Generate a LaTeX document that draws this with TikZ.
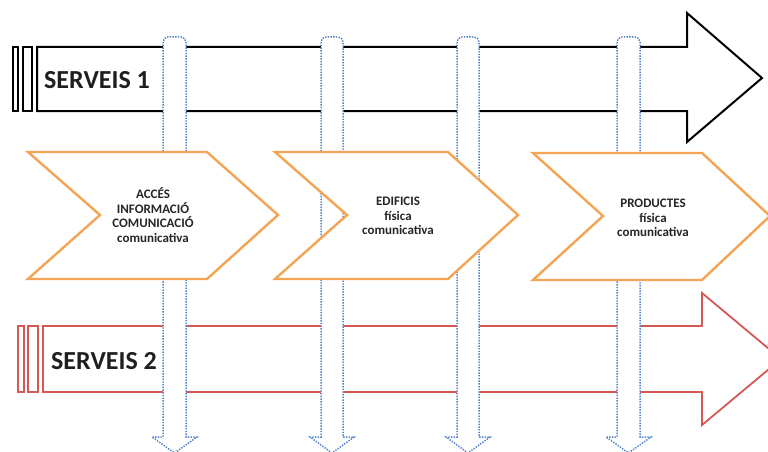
\documentclass[tikz,border=0pt]{standalone}
\usepackage{fontspec}
\setmainfont{Carlito}
\definecolor{orng}{RGB}{244,164,84}
\definecolor{redd}{RGB}{214,88,84}
\definecolor{blu}{RGB}{80,130,205}
\tikzset{
  blkarrow/.style={draw=black, line width=2pt, fill=white, line join=miter},
  redarrow/.style={draw=redd, line width=1.8pt, fill=white, line join=miter},
  varrow/.style={draw=blu, line width=1.5pt, dash pattern=on 1.4pt off 1.3pt, fill=white},
  chev/.style={draw=orng, line width=2.4pt, fill=white, line join=miter},
  chevtext/.style={align=center, font=\fontsize{13}{14.4}\selectfont\bfseries, text=black!85, inner sep=0pt},
  servtext/.style={anchor=west, font=\fontsize{26}{28}\selectfont\bfseries, text=black!88, inner sep=0pt}
}
\begin{document}
\begin{tikzpicture}[x=1pt,y=-1pt]
\useasboundingbox (0,0) rectangle (768,452);
\begin{scope}
\clip (0,0) rectangle (768,452);
% black arrow
\draw[blkarrow] (37,47) -- (687,47) -- (687,13) -- (762,78) -- (687,142) -- (687,111) -- (37,111) -- cycle;
\draw[blkarrow] (13,47) rectangle (18,111);
\draw[blkarrow] (23,47) rectangle (32,111);
\node[servtext] (s1) at (44,80) {SERVEIS 1};
% red arrow
\draw[redarrow] (43,326) -- (702,326) -- (702,293) -- (781,359) -- (702,425) -- (702,392) -- (43,392) -- cycle;
\draw[redarrow] (18,326) rectangle (24,392);
\draw[redarrow] (28,326) rectangle (38,392);
\node[servtext] (s2) at (51,361) {SERVEIS 2};
% vertical arrows
\foreach \a/\b/\l/\r/\m in {163/186/152/197/174.5, 321/343/310/354/332, 457/479/446/490/468, 617/640/606/651/628.5}{
  \draw[varrow] (\a,200) [rounded corners=5pt] -- (\a,37) -- (\b,37) -- (\b,200) [sharp corners] -- (\b,437) -- (\r,437) -- (\m,453) -- (\l,437) -- (\a,437) -- cycle;
}
% chevrons
\draw[chev] (28,152) -- (207,152) -- (278,215) -- (207,279) -- (28,279) -- (100,215) -- cycle;
\draw[chev] (275,152) -- (448,152) -- (518,215) -- (448,279) -- (275,279) -- (347,215) -- cycle;
\draw[chev] (533,153) -- (702,153) -- (770,216) -- (702,280) -- (533,280) -- (603,216) -- cycle;
\node[chevtext] (c1) at (153,215) {ACCÉS\\INFORMACIÓ\\COMUNICACIÓ\\comunicativa};
\node[chevtext] (c2) at (398,216) {EDIFICIS\\física\\comunicativa};
\node[chevtext] (c3) at (653,218) {PRODUCTES\\física\\comunicativa};
\end{scope}
\end{tikzpicture}
\end{document}
